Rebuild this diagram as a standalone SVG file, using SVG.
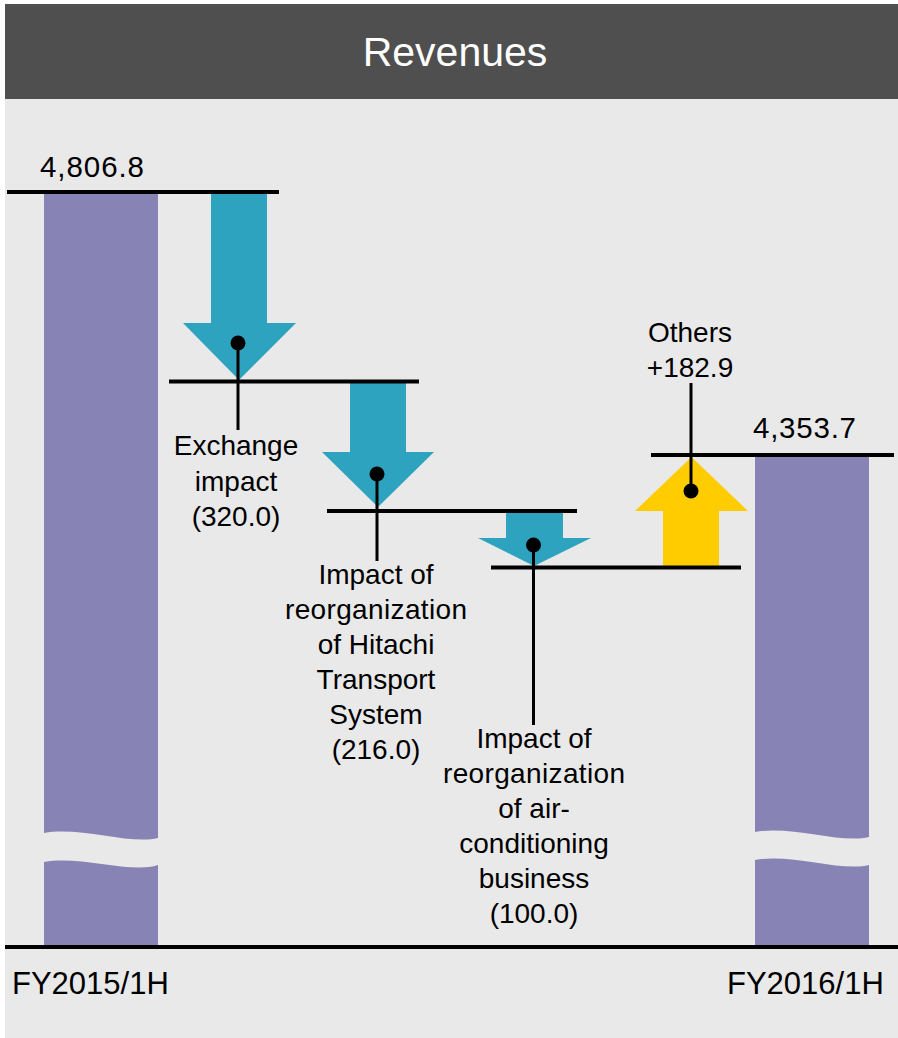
<svg xmlns="http://www.w3.org/2000/svg" width="898" height="1038" viewBox="0 0 898 1038">
<style>
text{font-family:"Liberation Sans",Arial,sans-serif;fill:#000;}
.lbl{font-size:28px;text-anchor:middle;}
.num{font-size:29.5px;}
.big{font-size:31px;}
.hl{stroke:#000;stroke-width:4;fill:none;}
.cn{stroke:#000;stroke-width:3;fill:none;}
.bar{fill:#8783b5;}
.down{fill:#2da3c0;}
.up{fill:#ffcc00;}
</style>
<rect x="0" y="0" width="898" height="1038" fill="#ffffff"/>
<g id="header">
<rect x="5" y="4" width="893" height="95" fill="#4f4f4f"/>
<text x="455" y="66" style="font-size:41px;fill:#ffffff" text-anchor="middle">Revenues</text>
</g>
<rect x="5" y="99" width="893" height="939" fill="#e9e9e9"/>
<g id="bar-fy2015">
<path class="bar" d="M44,194 H158 V838 C130,845 80,826 44,833 Z"/>
<path class="bar" d="M44,862 C80,855 130,874 158,865 V946 H44 Z"/>
<text x="40" y="177" class="num" textLength="104" lengthAdjust="spacing">4,806.8</text>
</g>
<g id="bar-fy2016">
<path class="bar" d="M755,457 H869 V837 C841,844 791,825 755,832 Z"/>
<path class="bar" d="M755,860 C791,853 841,872 869,865 V945 H755 Z"/>
<text x="753" y="438" class="num" textLength="103" lengthAdjust="spacing">4,353.7</text>
</g>
<g id="exchange">
<polygon class="down" points="211,194 267,194 267,323 296,323 239,380 183,323 211,323"/>
<text x="236" y="455" class="lbl">Exchange</text>
<text x="236" y="491" class="lbl">impact</text>
<text x="236" y="526" class="lbl">(320.0)</text>
</g>
<g id="hitachi-transport">
<polygon class="down" points="350,383 406,383 406,452 434,452 378,507 322,452 350,452"/>
<text x="376" y="584" class="lbl">Impact of</text>
<text x="376" y="619" class="lbl" textLength="182" lengthAdjust="spacing">reorganization</text>
<text x="376" y="654" class="lbl">of Hitachi</text>
<text x="376" y="689" class="lbl">Transport</text>
<text x="376" y="724" class="lbl">System</text>
<text x="376" y="759" class="lbl">(216.0)</text>
</g>
<g id="air-conditioning">
<polygon class="down" points="506,512 563,512 563,538 591,538 534,566 478,538 506,538"/>
<text x="534" y="748" class="lbl">Impact of</text>
<text x="534" y="783" class="lbl" textLength="182" lengthAdjust="spacing">reorganization</text>
<text x="534" y="818" class="lbl">of air-</text>
<text x="534" y="853" class="lbl">conditioning</text>
<text x="534" y="888" class="lbl">business</text>
<text x="534" y="923" class="lbl">(100.0)</text>
</g>
<g id="others">
<polygon class="up" points="663,567 719,567 719,511 748,511 691.5,457 635,511 663,511"/>
<text x="690" y="342" class="lbl">Others</text>
<text x="690" y="377" class="lbl">+182.9</text>
</g>
<g id="axis-labels">
<text x="12" y="994" class="big">FY2015/1H</text>
<text x="727" y="994" class="big">FY2016/1H</text>
</g>
<g id="connectors">
<line class="hl" x1="7" y1="192" x2="279" y2="192"/>
<line class="hl" x1="169" y1="381.5" x2="419" y2="381.5"/>
<line class="hl" x1="327" y1="511" x2="577" y2="511"/>
<line class="hl" x1="491" y1="567.5" x2="741" y2="567.5"/>
<line class="hl" x1="651" y1="455" x2="894" y2="455"/>
<line class="hl" x1="5" y1="947" x2="898" y2="947"/>
<line class="cn" x1="238" y1="343" x2="238" y2="430"/>
<circle cx="238" cy="343" r="7.5"/>
<line class="cn" x1="377" y1="474" x2="377" y2="561"/>
<circle cx="377" cy="474" r="7.5"/>
<line class="cn" x1="533.5" y1="545" x2="533.5" y2="725"/>
<circle cx="533.5" cy="545" r="7.5"/>
<line class="cn" x1="691" y1="491" x2="691" y2="383"/>
<circle cx="691" cy="491" r="7.5"/>
</g>
</svg>
